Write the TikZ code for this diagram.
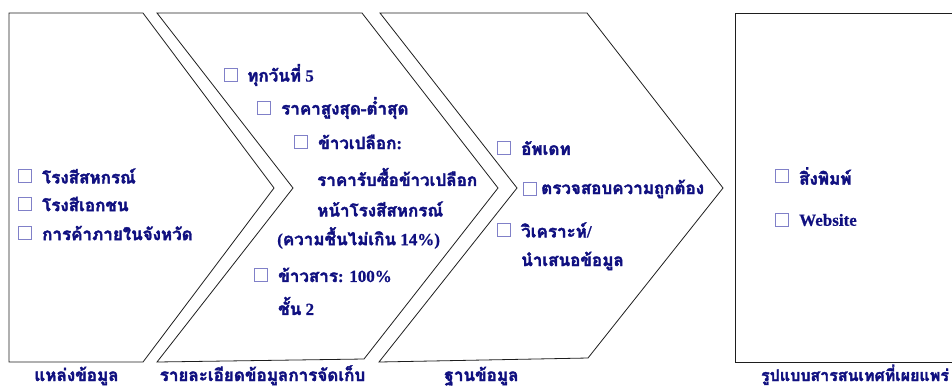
\documentclass[tikz,border=0pt]{standalone}
\usepackage{fontspec}
\setmainfont{Liberation Serif}[BoldFeatures={FakeBold=0.6}]
\newfontfamily\thaifont[Script=Thai,Scale=1.0,FakeBold=2.2]{Loma}
\newcommand{\tha}[1]{{\thaifont #1}}
\definecolor{txtcol}{RGB}{16,16,128}
\definecolor{boxcol}{RGB}{128,128,200}
\definecolor{edgecol}{RGB}{30,30,30}
\tikzset{
  shapeline/.style={draw=edgecol, line width=0.8pt, line join=miter},
  item/.style={anchor=west, inner sep=0pt, text=txtcol, font=\bfseries\fontsize{17}{20}\selectfont},
  lbl/.style={anchor=base, inner sep=0pt, text=txtcol, font=\bfseries\fontsize{17}{20}\selectfont},
  chk/.style={draw=boxcol, line width=0.6pt, minimum size=13pt, inner sep=0pt, fill=white},
}
\begin{document}
\begin{tikzpicture}[x=1pt,y=-1pt]
\useasboundingbox (0,0) rectangle (952,389);
% shapes
\draw[shapeline] (9,13) -- (143,13) -- (274,188) -- (143,362) -- (9,362) -- cycle;
\draw[shapeline] (157,13) -- (362,13) -- (498,188) -- (364,359) -- (157,362) -- (293,188) -- cycle;
\draw[shapeline] (380,13) -- (587,13) -- (723,188) -- (588,358) -- (379,362) -- (517,188) -- cycle;
\draw[shapeline] (954,13) -- (735,13) -- (735,362) -- (954,362);
% shape 1
\node[chk] (c1) at (25,176) {};
\node[item] (t1) at (42,176) {\tha{โรงสีสหกรณ์}};
\node[chk] (c2) at (25,204) {};
\node[item] (t2) at (42,204) {\tha{โรงสีเอกชน}};
\node[chk] (c3) at (25,233) {};
\node[item] (t3) at (42,233) {\tha{การค้าภายในจังหวัด}};
% shape 2
\node[chk] (c4) at (230.5,75) {};
\node[item] (t4) at (247,75) {\tha{ทุกวันที่} 5};
\node[chk] (c5) at (263.5,108) {};
\node[item] (t5) at (281,108) {\tha{ราคาสูงสุด-ต่ำสุด}};
\node[chk] (c6) at (300.5,142) {};
\node[item] (t6) at (318,142) {\tha{ข้าวเปลือก}:};
\node[item] (t7) at (317,177) {\tha{ราคารับซื้อข้าวเปลือก}};
\node[item] (t8) at (317,209) {\tha{หน้าโรงสีสหกรณ์}};
\node[item] (t9) at (277,238) {(\tha{ความชื้นไม่เกิน} 14\%)};
\node[chk] (c7) at (260.5,275) {};
\node[item] (t10) at (278,275) {\tha{ข้าวสาร}: 100\%};
\node[item] (t11) at (278,306) {\tha{ชั้น} 2};
% shape 3
\node[chk] (c8) at (504,148) {};
\node[item] (t12) at (521,148) {\tha{อัพเดท}};
\node[chk] (c9) at (530,189) {};
\node[item] (t13) at (541,189) {\tha{ตรวจสอบความถูกต้อง}};
\node[chk] (c10) at (504,230) {};
\node[item] (t14) at (521,230) {\tha{วิเคราะห์}/};
\node[item] (t15) at (521,261) {\tha{นำเสนอข้อมูล}};
% shape 4
\node[chk] (c11) at (782,176) {};
\node[item] (t16) at (799,176) {\tha{สิ่งพิมพ์}};
\node[chk] (c12) at (782,220) {};
\node[item] (t17) at (799,220) {Website};
% labels
\node[lbl] (l1) at (76.5,381) {\tha{แหล่งข้อมูล}};
\node[lbl] (l2) at (262.5,381) {\tha{รายละเอียดข้อมูลการจัดเก็บ}};
\node[lbl] (l3) at (481.5,381) {\tha{ฐานข้อมูล}};
\node[lbl, font=\bfseries\fontsize{16}{20}\selectfont] (l4) at (855,381) {\tha{รูปแบบสารสนเทศที่เผยแพร่}};
\end{tikzpicture}
\end{document}
